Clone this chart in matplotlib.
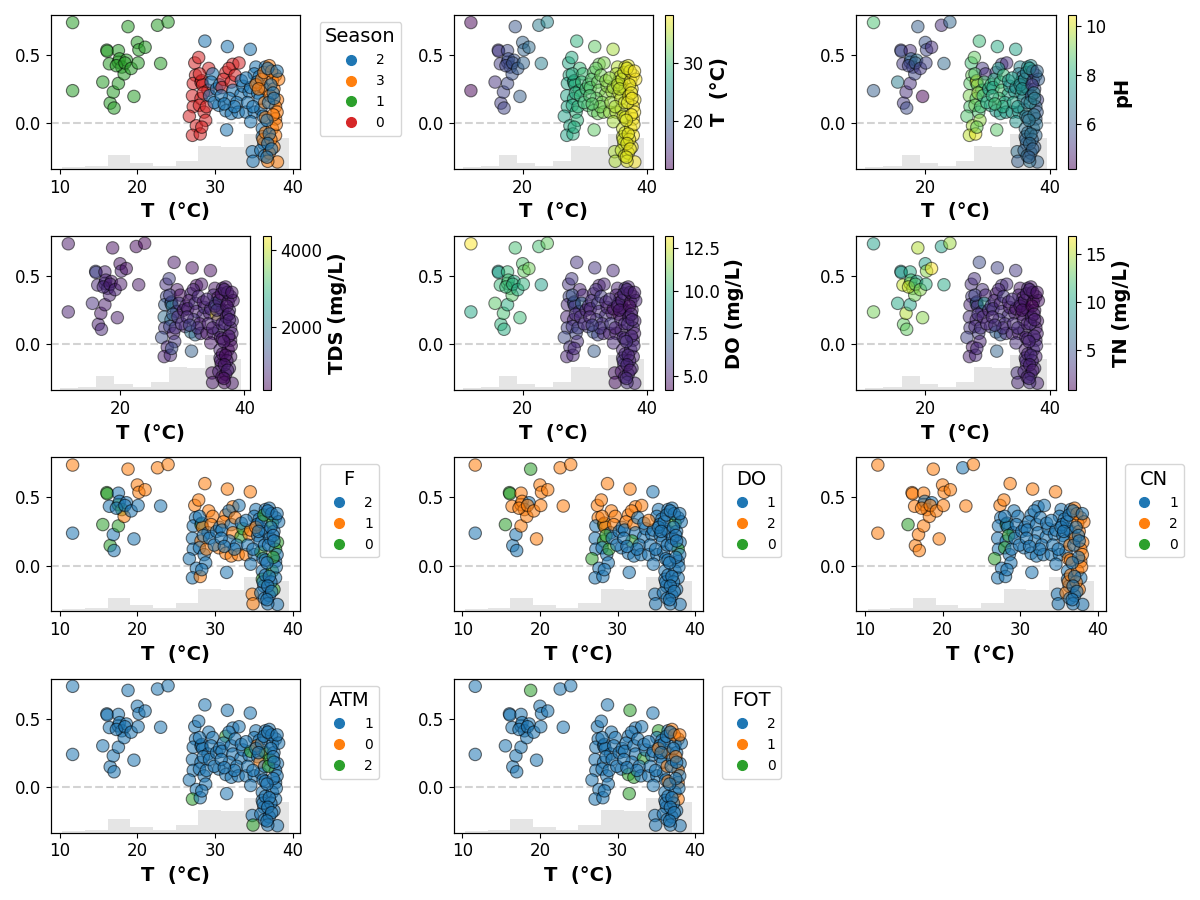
import numpy as np
import matplotlib
matplotlib.use("Agg")
import matplotlib.pyplot as plt
from matplotlib.lines import Line2D
from matplotlib.ticker import MultipleLocator

# ---------------- data ----------------
# x: water temperature, y: contribution value for T
T = [
    # right cluster
    27.4, 27.5, 27.2, 27.1, 27.2, 26.7, 27.6, 27.1,
    27.9, 28.2, 28.3, 28.4, 29.1, 28.2, 28.0, 28.6, 28.8, 28.1, 29.2, 28.0, 28.5, 28.9, 28.3,
    28.7, 29.7, 29.3, 30.5, 29.5, 30.2, 29.9, 30.6,
    31.4, 31.1, 30.9, 32.1, 32.3, 33.1, 31.8, 32.6,
    31.6, 31.4, 32.1, 32.3, 33.35, 33.6, 31.5, 31.85, 30.8, 32.8, 33.0, 32.5, 31.2, 33.4,
    34.55, 34.4, 34.6, 34.0, 35.06, 35.9, 35.27, 36.5, 35.06, 35.7, 34.6, 36.1, 36.1, 36.3,
    34.8, 34.9, 35.5, 34.2, 35.8, 36.0, 35.4, 34.9, 36.2, 35.9, 36.4, 34.0,
    36.5, 35.27, 36.5, 36.0, 36.3, 35.6, 36.4, 36.2, 36.5,
    37.0, 37.8, 37.4, 38.05, 37.8, 37.8, 37.4, 37.8, 37.6, 37.0, 38.05, 37.3, 37.6, 38.2,
    37.1, 37.9, 37.2, 38.0, 37.5, 36.8,
    36.8, 37.2, 36.9, 37.5, 36.7, 37.0, 36.8, 37.3, 38.0, 36.7, 37.6,
    # left cluster
    11.66, 11.66, 15.55, 16.07, 16.12, 16.40, 16.50, 16.90, 17.00, 17.56, 17.56, 17.56,
    17.70, 18.00, 18.30, 18.60, 18.80, 17.30, 18.40, 19.20, 19.56, 20.00, 20.10, 20.20,
    21.00, 22.60, 23.00, 23.96,
]
SHAP = [
    0.44, 0.35, 0.29, 0.20, 0.12, 0.05, -0.02, -0.09,
    0.48, 0.30, 0.31, 0.28, 0.24, 0.18, 0.13, 0.08, 0.02, -0.08, 0.40, 0.36, 0.22, 0.12, -0.03,
    0.60, 0.36, 0.20, 0.13, 0.30, 0.25, 0.15, 0.28,
    0.37, 0.32, 0.26, 0.30, 0.43, 0.44, 0.40, 0.35,
    0.56, 0.09, 0.07, 0.24, 0.21, 0.27, -0.05, 0.18, 0.20, 0.15, 0.08, 0.12, 0.14, 0.31,
    0.54, 0.23, 0.26, 0.08, 0.08, 0.10, 0.41, 0.41, 0.36, 0.34, 0.01, -0.04, -0.10, -0.15,
    -0.21, -0.28, 0.22, 0.15, 0.18, 0.27, 0.30, 0.12, 0.05, -0.20, -0.24, 0.33,
    0.25, 0.28, 0.04, 0.32, 0.37, 0.25, 0.15, -0.12, -0.07,
    0.42, 0.35, 0.31, 0.17, 0.12, 0.03, -0.04, -0.09, -0.175, -0.22, -0.285, 0.38, 0.25, 0.32,
    0.20, -0.01, -0.12, 0.08, 0.06, -0.28,
    0.40, 0.28, 0.15, 0.22, 0.02, -0.08, -0.15, -0.19, 0.38, -0.25, 0.18,
    0.736, 0.237, 0.30, 0.534, 0.526, 0.434, 0.146, 0.227, 0.110, 0.530, 0.446, 0.290,
    0.470, 0.410, 0.360, 0.460, 0.706, 0.420, 0.440, 0.400, 0.195, 0.590, 0.440, 0.536,
    0.555, 0.716, 0.436, 0.740,
]
Season = [
    0, 0, 0, 0, 0, 0, 0, 0,
    0, 0, 0, 0, 0, 0, 0, 0, 0, 0, 0, 0, 0, 0, 0,
    2, 2, 2, 2, 2, 2, 2, 2,
    0, 0, 0, 0, 0, 0, 0, 0,
    2, 2, 2, 2, 2, 2, 2, 2, 2, 2, 2, 2, 2, 2,
    2, 2, 2, 2, 2, 2, 2, 2, 2, 2, 2, 2, 2, 2,
    2, 2, 2, 2, 2, 2, 2, 2, 2, 2, 2, 2,
    3, 3, 3, 3, 3, 3, 3, 3, 3,
    3, 3, 3, 3, 3, 3, 3, 3, 3, 3, 3, 3, 3, 3,
    3, 3, 3, 3, 3, 3,
    2, 2, 2, 2, 2, 2, 2, 2, 2, 2, 2,
    1, 1, 1, 1, 1, 1, 1, 1, 1, 1, 1, 1,
    1, 1, 1, 1, 1, 1, 1, 1, 1, 1, 1, 1,
    1, 1, 1, 1,
]
pH = [
    8.5, 9.0, 8.8, 9.2, 8.6, 8.7, 9.6, 9.8,
    8.9, 9.3, 10.45, 9.0, 8.4, 8.8, 9.1, 8.6, 9.4, 10.2, 5.2, 8.7, 9.5, 8.5, 9.0,
    8.4, 5.0, 8.2, 8.0, 8.6, 7.8, 8.1, 8.3,
    5.4, 8.0, 7.8, 8.2, 5.3, 5.0, 7.6, 8.4,
    8.0, 7.5, 7.7, 8.6, 7.8, 7.4, 8.8, 8.4, 8.2, 7.9, 7.6, 8.1, 8.5, 7.3,
    7.8, 7.5, 7.2, 7.6, 7.4, 7.1, 7.0, 7.3, 6.8, 6.6, 7.4, 6.5, 6.3, 6.2,
    6.4, 6.0, 7.6, 7.9, 7.0, 6.8, 7.2, 7.5, 6.6, 6.1, 6.4, 7.7,
    7.0, 7.2, 6.5, 7.1, 6.9, 7.3, 6.6, 6.2, 6.4,
    7.2, 6.8, 5.5, 5.4, 6.3, 6.1, 6.4, 6.2, 6.0, 6.3, 6.1, 5.3, 5.6, 6.0,
    5.8, 6.5, 6.2, 5.9, 6.7, 6.4,
    7.5, 5.2, 7.0, 6.9, 6.6, 6.5, 6.3, 6.1, 6.2, 6.0, 6.8,
    8.6, 6.0, 6.8, 5.3, 5.6, 5.2, 5.2, 5.0, 5.6, 5.0, 5.8, 5.0,
    6.2, 5.3, 5.5, 6.5, 6.0, 5.4, 6.0, 5.2, 4.15, 5.8, 5.4, 5.5,
    5.0, 4.9, 6.3, 6.2,
]
TDS = [
    900, 1200, 1500, 1800, 1000, 1300, 800, 700,
    1100, 1600, 1400, 2000, 900, 1800, 1200, 700, 1000, 800, 600, 1100, 1500, 900, 1300,
    600, 500, 800, 700, 1000, 600, 900, 700,
    800, 600, 700, 900, 500, 600, 700, 800,
    500, 1900, 1700, 700, 800, 900, 1600, 1000, 800, 600, 700, 900, 1100, 600,
    500, 700, 800, 600, 700, 900, 600, 700, 800, 500, 600, 700, 800, 600,
    500, 600, 4360, 700, 800, 600, 1800, 700, 600, 700, 500, 800,
    700, 800, 600, 700, 600, 900, 700, 600, 500,
    600, 700, 600, 800, 700, 600, 500, 600, 700, 500, 600, 700, 800, 600,
    700, 500, 600, 700, 600, 500,
    700, 600, 800, 700, 600, 500, 600, 700, 600, 500, 700,
    600, 700, 900, 1200, 1100, 800, 700, 600, 800, 700, 900, 650,
    750, 850, 700, 600, 500, 800, 700, 750, 650, 550, 600, 700,
    500, 450, 600, 370,
]
DO = [
    5.5, 6.0, 5.2, 5.0, 5.8, 6.2, 5.4, 5.0,
    5.6, 7.5, 5.8, 5.5, 5.2, 5.0, 5.6, 6.0, 5.3, 5.1, 5.0, 6.5, 5.4, 5.8, 5.2,
    5.5, 5.0, 5.2, 5.5, 7.0, 5.0, 5.3, 4.8,
    5.0, 5.4, 5.2, 5.6, 4.9, 5.0, 5.3, 5.7,
    5.5, 6.5, 6.0, 5.2, 5.4, 5.0, 6.8, 5.6, 5.0, 5.3, 5.1, 5.5, 5.8, 4.9,
    5.2, 4.8, 4.6, 5.0, 4.9, 5.1, 5.0, 5.4, 4.8, 4.7, 5.2, 5.0, 5.3, 5.1,
    4.6, 4.5, 4.15, 5.6, 5.0, 4.8, 5.2, 4.9, 5.1, 4.7, 4.9, 5.3,
    5.0, 4.8, 5.1, 4.9, 5.2, 4.7, 5.0, 5.3, 5.1,
    5.0, 4.8, 4.6, 4.9, 5.1, 5.0, 5.2, 4.9, 5.1, 5.3, 5.0, 4.7, 4.8, 5.0,
    4.9, 5.2, 5.0, 4.8, 5.1, 5.3,
    5.0, 4.5, 5.2, 4.9, 5.3, 5.0, 5.1, 4.8, 4.9, 5.2, 5.0,
    13.2, 9.5, 10.8, 9.0, 9.3, 10.2, 10.0, 10.5, 9.8, 10.2, 10.6, 9.8,
    10.4, 10.0, 10.8, 9.6, 10.5, 10.3, 10.1, 9.7, 10.3, 10.6, 10.0, 11.0,
    11.2, 10.5, 9.2, 11.0,
]
TN = [
    3.0, 3.5, 2.5, 2.8, 3.2, 4.0, 2.0, 2.2,
    3.0, 10.0, 3.5, 2.5, 3.0, 2.5, 2.8, 3.6, 2.4, 2.6, 3.0, 4.0, 3.1, 2.9, 2.7,
    4.5, 2.5, 2.4, 3.0, 9.0, 2.2, 2.6, 3.0,
    2.0, 2.6, 3.2, 2.4, 3.0, 2.8, 2.5, 3.4,
    4.0, 6.0, 5.5, 2.8, 3.0, 2.0, 6.0, 3.2, 2.6, 2.9, 3.1, 2.7, 3.0, 2.3,
    3.5, 2.0, 1.8, 2.5, 2.2, 2.4, 2.0, 2.6, 2.1, 1.9, 2.8, 2.0, 2.5, 2.2,
    3.0, 2.6, 1.5, 2.7, 2.3, 1.7, 2.4, 2.8, 2.0, 2.4, 2.1, 2.9,
    2.3, 2.0, 2.5, 1.8, 2.2, 1.6, 2.1, 2.6, 2.3,
    2.0, 1.5, 1.2, 1.8, 2.1, 2.4, 2.6, 2.2, 2.5, 2.8, 2.3, 1.4, 1.9, 1.6,
    2.0, 2.7, 2.4, 2.1, 2.6, 2.9,
    2.2, 0.85, 2.5, 1.8, 2.4, 2.7, 2.3, 2.0, 1.7, 2.6, 2.1,
    10.0, 13.5, 10.5, 9.0, 9.5, 15.5, 13.0, 15.0, 13.0, 10.5, 15.0, 10.0,
    12.0, 14.0, 13.5, 10.0, 15.0, 15.5, 12.5, 14.0, 14.0, 10.0, 11.0, 14.0,
    16.9, 10.0, 10.5, 14.5,
]
F = [
    1, 2, 2, 2, 2, 2, 2, 2,
    1, 0, 2, 1, 2, 1, 2, 2, 2, 1, 1, 2, 2, 1, 2,
    1, 1, 2, 1, 1, 2, 2, 2,
    1, 1, 2, 2, 1, 2, 2, 1,
    1, 1, 1, 1, 0, 0, 2, 2, 2, 2, 1, 2, 2, 2,
    1, 1, 1, 1, 2, 0, 2, 2, 2, 2, 2, 2, 0, 2,
    1, 1, 2, 2, 2, 2, 2, 2, 2, 2, 2, 2,
    2, 1, 2, 2, 0, 2, 2, 2, 2,
    2, 2, 0, 0, 0, 2, 0, 2, 0, 2, 2, 2, 2, 2,
    2, 2, 2, 2, 0, 2,
    2, 2, 2, 2, 2, 2, 2, 2, 2, 2, 2,
    1, 2, 0, 0, 0, 2, 0, 2, 2, 2, 0, 0,
    2, 0, 1, 2, 1, 2, 2, 2, 2, 1, 2, 1,
    1, 1, 2, 1,
]
DO_cat = [
    2, 2, 1, 1, 1, 0, 1, 1,
    2, 0, 2, 2, 1, 0, 1, 1, 1, 1, 2, 2, 0, 0, 1,
    2, 2, 1, 1, 2, 1, 1, 1,
    2, 2, 1, 2, 2, 2, 2, 1,
    2, 1, 1, 1, 1, 1, 1, 0, 1, 1, 1, 1, 1, 1,
    1, 1, 1, 1, 1, 1, 1, 1, 1, 1, 1, 1, 1, 1,
    1, 1, 1, 1, 1, 1, 1, 1, 1, 1, 1, 2,
    1, 1, 1, 1, 1, 1, 1, 1, 1,
    1, 1, 0, 1, 0, 1, 1, 1, 1, 1, 1, 1, 1, 1,
    1, 1, 1, 1, 1, 1,
    1, 1, 1, 1, 1, 1, 1, 1, 1, 1, 1,
    2, 1, 0, 0, 0, 2, 1, 1, 1, 2, 2, 2,
    2, 2, 2, 1, 0, 2, 2, 2, 2, 2, 2, 2,
    2, 2, 2, 2,
]
CN = [
    2, 1, 1, 1, 1, 0, 1, 1,
    2, 0, 1, 1, 1, 1, 0, 1, 1, 1, 1, 1, 0, 1, 1,
    2, 1, 1, 1, 1, 1, 1, 1,
    1, 1, 1, 1, 1, 1, 1, 1,
    2, 1, 1, 1, 1, 1, 1, 1, 1, 1, 1, 1, 1, 1,
    2, 1, 1, 1, 1, 1, 1, 1, 1, 1, 1, 1, 1, 1,
    1, 1, 1, 1, 1, 1, 1, 1, 2, 2, 1, 1,
    1, 1, 2, 1, 1, 1, 2, 2, 2,
    2, 2, 2, 2, 2, 2, 2, 1, 2, 1, 1, 2, 2, 2,
    2, 2, 2, 2, 1, 1,
    1, 1, 1, 1, 1, 1, 1, 1, 1, 1, 1,
    2, 2, 0, 2, 2, 2, 2, 2, 2, 2, 2, 2,
    1, 2, 2, 1, 2, 2, 2, 2, 2, 2, 2, 2,
    2, 1, 2, 2,
]
ATM = [
    1, 1, 1, 1, 1, 1, 1, 2,
    1, 1, 1, 1, 1, 1, 1, 1, 1, 1, 1, 1, 1, 1, 1,
    1, 1, 1, 1, 1, 1, 1, 1,
    2, 1, 1, 1, 1, 1, 1, 1,
    1, 1, 1, 1, 1, 1, 1, 1, 1, 1, 1, 1, 1, 1,
    1, 1, 2, 1, 1, 1, 1, 1, 1, 1, 1, 1, 1, 1,
    1, 2, 1, 1, 0, 0, 0, 1, 1, 1, 1, 1,
    2, 1, 1, 1, 1, 1, 1, 1, 1,
    1, 1, 1, 1, 1, 1, 1, 1, 1, 1, 1, 1, 1, 1,
    2, 1, 1, 1, 1, 1,
    1, 1, 2, 1, 1, 1, 1, 1, 1, 1, 1,
    1, 1, 1, 1, 1, 1, 1, 1, 1, 1, 1, 1,
    1, 1, 1, 1, 1, 1, 1, 1, 1, 1, 1, 1,
    1, 1, 1, 1,
]
FOT = [
    2, 2, 2, 2, 2, 2, 2, 2,
    2, 2, 2, 2, 2, 2, 2, 2, 2, 2, 2, 2, 2, 2, 2,
    2, 2, 2, 2, 2, 2, 2, 2,
    2, 2, 2, 2, 2, 2, 2, 2,
    0, 0, 0, 2, 0, 2, 0, 2, 2, 2, 2, 2, 2, 2,
    2, 2, 2, 2, 2, 2, 0, 2, 2, 2, 2, 2, 2, 2,
    2, 2, 2, 2, 2, 2, 2, 2, 2, 2, 2, 2,
    1, 1, 1, 2, 2, 2, 1, 2, 2,
    1, 1, 2, 2, 1, 1, 2, 1, 2, 2, 2, 1, 2, 2,
    2, 2, 2, 2, 2, 2,
    2, 2, 2, 1, 2, 2, 2, 2, 1, 2, 2,
    2, 2, 2, 2, 2, 2, 2, 2, 2, 2, 2, 2,
    2, 2, 2, 2, 0, 2, 2, 2, 2, 2, 2, 2,
    2, 2, 2, 2,
]

# order in which category levels appear in each legend
season_order = [2, 3, 1, 0]
f_order = [2, 1, 0]
do_order = [1, 2, 0]
cn_order = [1, 2, 0]
atm_order = [1, 0, 2]
fot_order = [2, 1, 0]

panels = [
    ("cat", "Season", Season, season_order),
    ("num", "T  (°C)", T, None),
    ("num", "pH", pH, None),
    ("num", "TDS (mg/L)", TDS, None),
    ("num", "DO (mg/L)", DO, None),
    ("num", "TN (mg/L)", TN, None),
    ("cat", "F", F, f_order),
    ("cat", "DO", DO_cat, do_order),
    ("cat", "CN", CN, cn_order),
    ("cat", "ATM", ATM, atm_order),
    ("cat", "FOT", FOT, fot_order),
]

tab10 = plt.get_cmap("tab10").colors
x = np.array(T)
y = np.array(SHAP)

fig, axes = plt.subplots(4, 3, figsize=(12, 9), dpi=100)
axes = axes.ravel()

for i, (kind, name, vals, order) in enumerate(panels):
    ax = axes[i]
    if kind == "cat":
        cmap_lvl = {lv: tab10[k] for k, lv in enumerate(order)}
        cols = [cmap_lvl[v] for v in vals]
        ax.scatter(x, y, c=cols, s=80, alpha=0.55, edgecolors="k", linewidths=0.8)
        handles = [Line2D([0], [0], marker="o", ls="", color=cmap_lvl[lv],
                          markersize=7) for lv in order]
        ax.legend(handles, [str(lv) for lv in order], title=name,
                  bbox_to_anchor=(1.05, 1), loc="upper left",
                  fontsize=10, title_fontsize=14)
    else:
        sc = ax.scatter(x, y, c=np.array(vals, dtype=float), cmap="viridis",
                        s=80, alpha=0.5, edgecolors="k", linewidths=0.8)
        cb = fig.colorbar(sc, ax=ax)
        if name.startswith("TDS"):
            cb.locator = MultipleLocator(2000)
            cb.update_ticks()
        cb.set_label(name, fontsize=14, fontweight="bold")
        cb.ax.tick_params(labelsize=12)
    ax.axhline(0, color="lightgrey", ls="--", lw=1.5, zorder=0)
    xl = ax.get_xlim()
    ax2 = ax.twinx()
    ax2.hist(x, bins=10, range=xl, color="black", alpha=0.1, zorder=-1)
    ax2.set_ylim(0, len(x) * 1.05)
    ax2.set_yticks([])
    ax.set_zorder(ax2.get_zorder() + 1)
    ax.patch.set_visible(False)
    ax.set_xlabel("T  (°C)", fontsize=14, fontweight="bold")
    ax.tick_params(labelsize=12)

axes[11].axis("off")

fig.tight_layout()
fig.savefig("out.png", dpi=100)
